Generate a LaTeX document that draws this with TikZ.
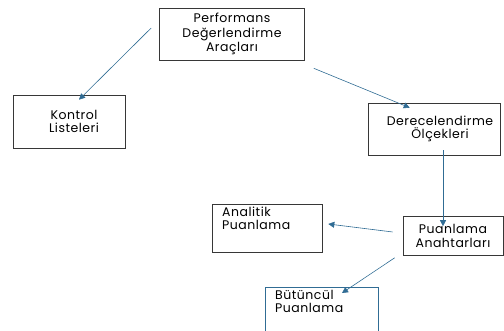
\documentclass[tikz,border=0pt]{standalone}
\usepackage{fontspec}
\setmainfont[LetterSpace=4]{Poppins}
\usetikzlibrary{positioning,arrows.meta,calc}
\definecolor{arrowblue}{RGB}{48,108,148}
\definecolor{boxgray}{RGB}{55,55,55}
\tikzset{
  tool/.style={rectangle,draw=boxgray,line width=0.6pt,align=center,
    font=\fontsize{12.5}{13.5}\selectfont,inner sep=2pt},
  tooltext/.style={align=left,font=\fontsize{12.5}{13}\selectfont,inner sep=0pt},
  link/.style={-{Triangle[length=6pt,width=6pt]},draw=arrowblue,line width=0.6pt}
}
\begin{document}
\begin{tikzpicture}[x=1pt,y=-1pt]
  \useasboundingbox (0,0) rectangle (504,331);
  \clip (0,0) rectangle (504,331);
  \node[tool,minimum width=145pt,minimum height=52pt,
    font=\fontsize{12.5}{14.3}\selectfont] (perf) at (232,34)
    {Performans\\Değerlendirme\\Araçları};
  \node[tool,minimum width=112pt,minimum height=53pt] (kontrol) at (69,121.5)
    {\hspace*{10pt}Kontrol\\\hspace*{10pt}Listeleri};
  \node[tool,minimum width=132pt,minimum height=52pt] (derece) at (434,129)
    {\hspace*{12pt}Derecelendirme\\\hspace*{12pt}Ölçekleri};
  \node[tool,minimum width=100pt,minimum height=39pt] (anahtar) at (453,236)
    {Puanlama\\Anahtarları};
  % sola yaslı kutular
  \node[tool,minimum width=110pt,minimum height=48pt] (analitik) at (267,228) {};
  \node[tooltext,anchor=west] (analitiktext) at (222,218) {Analitik\\Puanlama};
  \node[tool,draw=arrowblue,minimum width=113pt,minimum height=60pt,anchor=north west]
    (butun) at (265,287) {};
  \node[tooltext,anchor=west] (butuntext) at (275,301.5) {Bütüncül\\Puanlama};
  % oklar
  \draw[link] ([xshift=-8pt,yshift=6pt]perf.west) -- ([xshift=10pt,yshift=-5pt]kontrol.north);
  \draw[link] ([xshift=9pt,yshift=-8pt]perf.south east) -- ([xshift=42pt,yshift=-5pt]derece.north west);
  \draw[link] ([xshift=9pt,yshift=5pt]derece.south) -- ([xshift=-10pt,yshift=-10pt]anahtar.north);
  \draw[link] ([xshift=-10pt,yshift=4pt]anahtar.west) -- ([xshift=6pt,yshift=4pt]analitik.east);
  \draw[link] ([xshift=-8pt,yshift=-2pt]anahtar.south west) -- ([xshift=77pt,yshift=-6pt]butun.north west);
\end{tikzpicture}
\end{document}
